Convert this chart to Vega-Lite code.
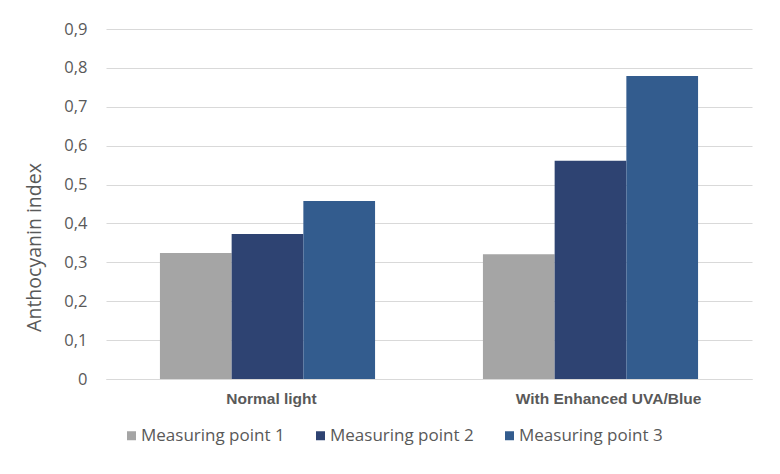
{
  "$schema": "https://vega.github.io/schema/vega-lite/v6.json",
  "width": 646,
  "height": 350,
  "autosize": {"type": "none"},
  "padding": {"left": 106, "top": 29, "right": 28, "bottom": 95},
  "background": "white",
  "data": {
    "values": [
      {"light": "Normal light", "point": "Measuring point 1", "index": 0.324},
      {"light": "Normal light", "point": "Measuring point 2", "index": 0.373},
      {"light": "Normal light", "point": "Measuring point 3", "index": 0.458},
      {"light": "With Enhanced UVA/Blue", "point": "Measuring point 1", "index": 0.321},
      {"light": "With Enhanced UVA/Blue", "point": "Measuring point 2", "index": 0.561},
      {"light": "With Enhanced UVA/Blue", "point": "Measuring point 3", "index": 0.779}
    ]
  },
  "mark": {"type": "bar"},
  "encoding": {
    "x": {
      "field": "light",
      "type": "nominal",
      "sort": null,
      "scale": {"paddingInner": 0.334, "paddingOuter": 0.167},
      "axis": {
        "title": null,
        "labelAngle": 0,
        "tickSize": 0,
        "labelPadding": 12,
        "labelLimit": 300,
        "labelOffset": {"condition": {"test": "datum.value == 'With Enhanced UVA/Blue'", "value": 18}, "value": 4},
        "labelFont": "Liberation Sans",
        "labelFontWeight": "bold",
        "labelFontSize": 15.5,
        "labelColor": "#595959",
        "domainColor": "#d9d9d9",
        "grid": false
      }
    },
    "xOffset": {"field": "point", "type": "nominal", "scale": {"paddingInner": 0, "paddingOuter": 0}},
    "y": {
      "field": "index",
      "type": "quantitative",
      "scale": {"domain": [0, 0.9], "nice": false},
      "axis": {
        "title": "Anthocyanin index",
        "titleFont": "Open Sans",
        "titleFontSize": 19.5,
        "titleFontWeight": "normal",
        "titleColor": "#595959",
        "titleAngle": -90,
        "titleX": -72,
        "titleY": 218,
        "titleAlign": "center",
        "titleBaseline": "middle",
        "values": [0, 0.1, 0.2, 0.3, 0.4, 0.5, 0.6, 0.7, 0.8, 0.9],
        "labelExpr": "datum.value == 0 ? '0' : replace(format(datum.value, '.1f'), '.', ',')",
        "labelFont": "Open Sans",
        "labelFontSize": 16.5,
        "labelColor": "#595959",
        "labelPadding": 19,
        "tickSize": 0,
        "domain": false,
        "grid": true,
        "gridColor": "#d9d9d9",
        "gridWidth": 1
      }
    },
    "color": {
      "field": "point",
      "type": "nominal",
      "scale": {"range": ["#a5a5a5", "#2e4372", "#335c8e"]},
      "legend": {
        "title": null,
        "orient": "none",
        "direction": "horizontal",
        "legendX": 17,
        "legendY": 398,
        "symbolType": "square",
        "symbolSize": 81,
        "symbolStrokeWidth": 0,
        "symbolOpacity": 1,
        "labelFont": "Open Sans",
        "labelFontSize": 17,
        "labelColor": "#595959",
        "labelOffset": 1,
        "labelLimit": 200,
        "columnPadding": 27
      }
    }
  },
  "config": {"view": {"stroke": null}}
}
